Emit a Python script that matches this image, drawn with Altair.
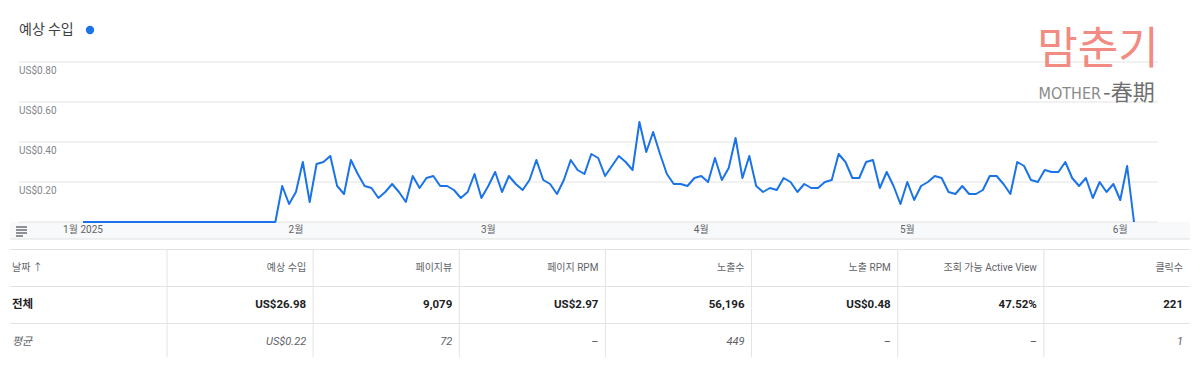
import altair as alt
import pandas as pd

FONT = "Roboto, 'Noto Sans CJK KR', sans-serif"
KFONT = "'Noto Sans CJK KR', Roboto, sans-serif"

# ---- daily estimated earnings (US$), 2025-01-01 .. 2025-06-03 ----
earnings = [
    0.0, 0.0, 0.0, 0.0, 0.0, 0.0, 0.0, 0.0, 0.0, 0.0,
    0.0, 0.0, 0.0, 0.0, 0.0, 0.0, 0.0, 0.0, 0.0, 0.0,
    0.0, 0.0, 0.0, 0.0, 0.0, 0.0, 0.0, 0.0, 0.0,
    0.18, 0.09,                                               # Jan 30-31
    0.15, 0.30, 0.10, 0.29, 0.30, 0.33, 0.18, 0.14, 0.31, 0.24,  # Feb 1-10
    0.18, 0.17, 0.12, 0.15, 0.19, 0.15, 0.10, 0.23, 0.17, 0.22,  # Feb 11-20
    0.23, 0.18, 0.18, 0.16, 0.12, 0.15, 0.24, 0.12,              # Feb 21-28
    0.18, 0.25, 0.15, 0.23, 0.19, 0.16, 0.21, 0.31, 0.21, 0.19,  # Mar 1-10
    0.14, 0.21, 0.31, 0.26, 0.24, 0.34, 0.32, 0.23, 0.28, 0.33,  # Mar 11-20
    0.30, 0.26, 0.50, 0.35, 0.45, 0.34, 0.24, 0.19, 0.19, 0.18,  # Mar 21-30
    0.22,                                                        # Mar 31
    0.23, 0.20, 0.32, 0.21, 0.27, 0.42, 0.22, 0.33, 0.18, 0.15,  # Apr 1-10
    0.17, 0.16, 0.22, 0.20, 0.15, 0.19, 0.17, 0.17, 0.20, 0.21,  # Apr 11-20
    0.34, 0.30, 0.22, 0.22, 0.30, 0.31, 0.17, 0.25, 0.18, 0.09,  # Apr 21-30
    0.20, 0.11, 0.18, 0.20, 0.23, 0.22, 0.15, 0.14, 0.18, 0.14,  # May 1-10
    0.14, 0.16, 0.23, 0.23, 0.19, 0.14, 0.30, 0.28, 0.21, 0.20,  # May 11-20
    0.26, 0.25, 0.25, 0.30, 0.22, 0.18, 0.22, 0.12, 0.20, 0.15,  # May 21-30
    0.19,                                                        # May 31
    0.11, 0.28, 0.00,                                            # Jun 1-3
]
dates = pd.date_range("2025-01-01", periods=len(earnings), freq="D").strftime("%Y-%m-%d").tolist()

month_dates = ["2025-01-01", "2025-02-01", "2025-03-01", "2025-04-01", "2025-05-01", "2025-06-01"]
month_labels = ["1월 2025", "2월", "3월", "4월", "5월", "6월"]

grid_values = [0.0, 0.2, 0.4, 0.6, 0.8]
tick_values = [0.2, 0.4, 0.6, 0.8]
tick_labels = ["US$0.20", "US$0.40", "US$0.60", "US$0.80"]

# ---- summary table ----
headers = ["날짜 ↑", "예상 수입", "페이지뷰", "페이지 RPM", "노출수", "노출 RPM", "조회 가능 Active View", "클릭수"]
total_row = ["전체", "US$26.98", "9,079", "US$2.97", "56,196", "US$0.48", "47.52%", "221"]
avg_row = ["평균", "US$0.22", "72", "–", "449", "–", "–", "1"]

W, H = 1184, 349
LINE_BLUE = "#1a73e8"
GRID = "#e3e3e3"

line_df = pd.DataFrame({"date": dates, "earn": earnings})
month_df = pd.DataFrame({"date": month_dates, "label": month_labels})
grid_df = pd.DataFrame({"v": grid_values})
tick_df = pd.DataFrame({"v": tick_values, "label": tick_labels})

x_scale = alt.Scale(range=[75, 1126], nice=False)
y_scale = alt.Scale(domain=[0, 0.8], range=[214, 54], nice=False, zero=True)

one = pd.DataFrame({"a": [0]})

band = alt.Chart(one).mark_rect(color="#f8f9fa").encode(
    x=alt.value(2), x2=alt.value(1182), y=alt.value(214), y2=alt.value(231))
band_line = alt.Chart(one).mark_rule(color="#e0e0e0", strokeWidth=1).encode(
    x=alt.value(2), x2=alt.value(1182), y=alt.value(231))

grid = alt.Chart(grid_df).mark_rule(color=GRID, strokeWidth=1).encode(
    y=alt.Y("v:Q", scale=y_scale, axis=None),
    x=alt.value(11), x2=alt.value(1150))

ylab = alt.Chart(tick_df).mark_text(
    align="left", baseline="middle", dy=9, font=FONT, fontSize=10, color="#80868b"
).encode(y=alt.Y("v:Q", scale=y_scale, axis=None), x=alt.value(11), text="label:N")

line = alt.Chart(line_df).mark_line(color=LINE_BLUE, strokeWidth=2, strokeJoin="round").encode(
    x=alt.X("date:T", scale=x_scale, axis=None),
    y=alt.Y("earn:Q", scale=y_scale, axis=None))

xlab = alt.Chart(month_df).mark_text(
    align="center", baseline="middle", font=FONT, fontSize=10, color="#5f6368"
).encode(x=alt.X("date:T", scale=x_scale, axis=None), y=alt.value(222), text="label:N")

plot_group = alt.layer(band, band_line, grid, ylab, line, xlab)

# hamburger icon
icon_layers = []
for yy, x2 in [(219, 19), (222, 19), (225, 19), (228, 15)]:
    icon_layers.append(alt.Chart(one).mark_rule(color="#5f6368", strokeWidth=1.4).encode(
        x=alt.value(8), x2=alt.value(x2), y=alt.value(yy)))

# title + dot
title_df = pd.DataFrame({"t": ["예상 수입"]})
title = alt.Chart(title_df).mark_text(
    align="left", baseline="middle", font=KFONT, fontSize=14, color="#3c4043"
).encode(x=alt.value(11), y=alt.value(22), text="t:N")
dot = alt.Chart(one).mark_point(filled=True, shape="circle", size=70, color=LINE_BLUE, opacity=1).encode(
    x=alt.value(82), y=alt.value(22))

# watermark
wm_df = pd.DataFrame({"a": ["맘춘기"], "b": ["MOTHER"], "c": ["-春期"]})
wm1 = alt.Chart(wm_df).mark_text(
    align="center", baseline="middle", font=KFONT, fontSize=44, color="#f28b82"
).encode(x=alt.value(1090), y=alt.value(43), text="a:N")
wm2 = alt.Chart(wm_df).mark_text(
    align="right", baseline="middle", font="'DejaVu Sans Condensed', sans-serif", fontSize=16,
    color="#8a8a8a"
).encode(x=alt.value(1093), y=alt.value(86), text="b:N")
wm3 = alt.Chart(wm_df).mark_text(
    align="left", baseline="middle", font=KFONT, fontSize=22, color="#707070"
).encode(x=alt.value(1095), y=alt.value(85), text="c:N")

# table
rows = [headers, total_row, avg_row]
recs = []
for r, row in enumerate(rows):
    for c, txt in enumerate(row):
        recs.append({"row": r, "col": c, "text": txt})
table_df = pd.DataFrame(recs)

col_scale = alt.Scale(domain=[0, 7], range=[159, 1182])
row_scale = alt.Scale(domain=[0, 2], range=[260, 334])

styles = {
    0: dict(fontSize=10, color="#5f6368", fontWeight="normal", fontStyle="normal"),
    1: dict(fontSize=11.5, color="#202124", fontWeight="bold", fontStyle="normal"),
    2: dict(fontSize=11, color="#5f6368", fontWeight="normal", fontStyle="italic"),
}

table_layers = []
for r in range(3):
    st = styles[r]
    base = alt.Chart(table_df).transform_filter(alt.datum.row == r)
    table_layers.append(
        base.transform_filter(alt.datum.col == 0).mark_text(
            align="left", baseline="middle", font=KFONT, **st
        ).encode(x=alt.value(4), y=alt.Y("row:Q", scale=row_scale, axis=None), text="text:N"))
    table_layers.append(
        base.transform_filter(alt.datum.col > 0).mark_text(
            align="right", baseline="middle", dx=-7, font=FONT, **st
        ).encode(x=alt.X("col:Q", scale=col_scale, axis=None),
                 y=alt.Y("row:Q", scale=row_scale, axis=None), text="text:N"))

sep_df = pd.DataFrame({"col": list(range(7))})
vsep = alt.Chart(sep_df).mark_rule(color=GRID, strokeWidth=1).encode(
    x=alt.X("col:Q", scale=col_scale, axis=None), y=alt.value(242), y2=alt.value(349))

hlines = []
for d in [-0.5, 0.5, 1.5]:
    hlines.append(alt.Chart(one).mark_rule(color=GRID, strokeWidth=1).encode(
        y=alt.Y(datum=d, scale=row_scale, axis=None), x=alt.value(2), x2=alt.value(1182)))

table_group = alt.layer(vsep, *hlines, *table_layers)

chart = alt.layer(
    plot_group, table_group, *icon_layers, title, dot, wm1, wm2, wm3
).resolve_scale(x="independent", y="independent").properties(
    width=W, height=H, autosize=alt.AutoSizeParams(type="none"), padding=0,
    background="white"
).configure_view(strokeWidth=0)

chart.save("out.html", embed_options={"renderer": "svg", "actions": False})
